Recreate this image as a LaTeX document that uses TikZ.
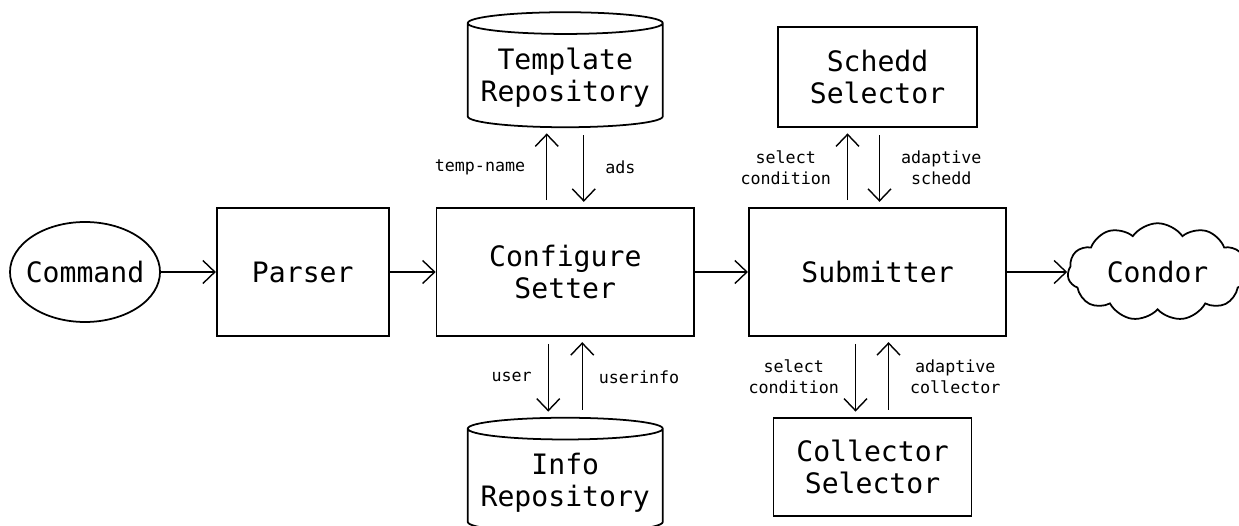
\documentclass[tikz,border=0pt]{standalone}
\usepackage{fontspec}
\setmonofont{DejaVu Sans Mono}
\usetikzlibrary{shapes.geometric,shapes.symbols,arrows.meta,positioning}

\begin{document}
\begin{tikzpicture}[
    node distance=1.6cm,
    bigfont/.style={font=\ttfamily\fontsize{16}{18}\selectfont},
    box/.style={rectangle, draw, line width=1pt, minimum width=5.15cm, minimum height=2.56cm, align=center, bigfont},
    repo/.style={cylinder, shape border rotate=90, draw, line width=1pt, aspect=0.12, minimum width=3.9cm, minimum height=2.3cm, align=center, bigfont},
    arrow/.style={-{Straight Barb[length=2.4mm,width=4.6mm]}, thick},
    pair/.style={arrow, shorten <=4pt, shorten >=3pt},
    lbl/.style={align=center, font=\ttfamily\fontsize{9.5}{12}\selectfont}
]
    \useasboundingbox (0,0) rectangle (24.78,-10.52);

    % main chain
    \node[ellipse, draw, line width=1pt, minimum width=3cm, minimum height=2cm, label={[bigfont]center:Command}] (command) at (1.7,-5.44) {};
    \node[box, minimum width=3.44cm, right=1.1cm of command] (parser) {Parser};
    \node[box, right=0.92cm of parser] (setter) {Configure\\Setter};
    \node[box, right=1.06cm of setter] (submitter) {Submitter};
    \node[cloud, draw, line width=1pt, cloud puffs=11, cloud puff arc=110, aspect=1.8, minimum width=3.6cm, minimum height=1.95cm, label={[bigfont]center:Condor}, right=1.2cm of submitter] (condor) {};

    % repositories
    \node[repo, above=1.58cm of setter] (template) {Template\\Repository};
    \node[repo, below=1.6cm of setter] (info) {Info\\Repository};

    % selectors
    \node[box, minimum width=3.98cm, minimum height=2cm, above=1.58cm of submitter] (schedd) {Schedd\\Selector};
    \node[box, minimum width=3.96cm, minimum height=1.96cm, below=1.6cm of submitter, xshift=-0.1cm] (collector) {Collector\\Selector};

    \draw[arrow] (command) -- (parser);
    \draw[arrow] (parser) -- (setter);
    \draw[arrow] (setter) -- (submitter);
    \draw[arrow] (submitter) -- (condor);

    \draw[pair] ([xshift=-0.37cm]setter.north) -- ([xshift=-0.37cm]setter.north |- template.south)
        node[midway, left=0.3cm, lbl] {temp-name};
    \draw[pair] ([xshift=0.37cm]setter.north |- template.south) -- ([xshift=0.37cm]setter.north)
        node[midway, right=0.3cm, lbl] {ads};

    \draw[pair] ([xshift=-0.34cm]setter.south) -- ([xshift=-0.34cm]setter.south |- info.north)
        node[midway, left=0.2cm, lbl] {user};
    \draw[pair] ([xshift=0.34cm]setter.south |- info.north) -- ([xshift=0.34cm]setter.south)
        node[midway, right=0.2cm, lbl] {userinfo};

    \draw[pair] ([xshift=-0.6cm]submitter.north) -- ([xshift=-0.6cm]submitter.north |- schedd.south)
        node[midway, left=0.2cm, lbl] {select\\condition};
    \draw[pair] ([xshift=0.04cm]submitter.north |- schedd.south) -- ([xshift=0.04cm]submitter.north)
        node[midway, right=0.3cm, lbl] {adaptive\\schedd};

    \draw[pair] ([xshift=-0.44cm]submitter.south) -- ([xshift=-0.44cm]submitter.south |- collector.north)
        node[midway, left=0.2cm, lbl] {select\\condition};
    \draw[pair] ([xshift=0.22cm]submitter.south |- collector.north) -- ([xshift=0.22cm]submitter.south)
        node[midway, right=0.3cm, lbl] {adaptive\\collector};
\end{tikzpicture}
\end{document}
